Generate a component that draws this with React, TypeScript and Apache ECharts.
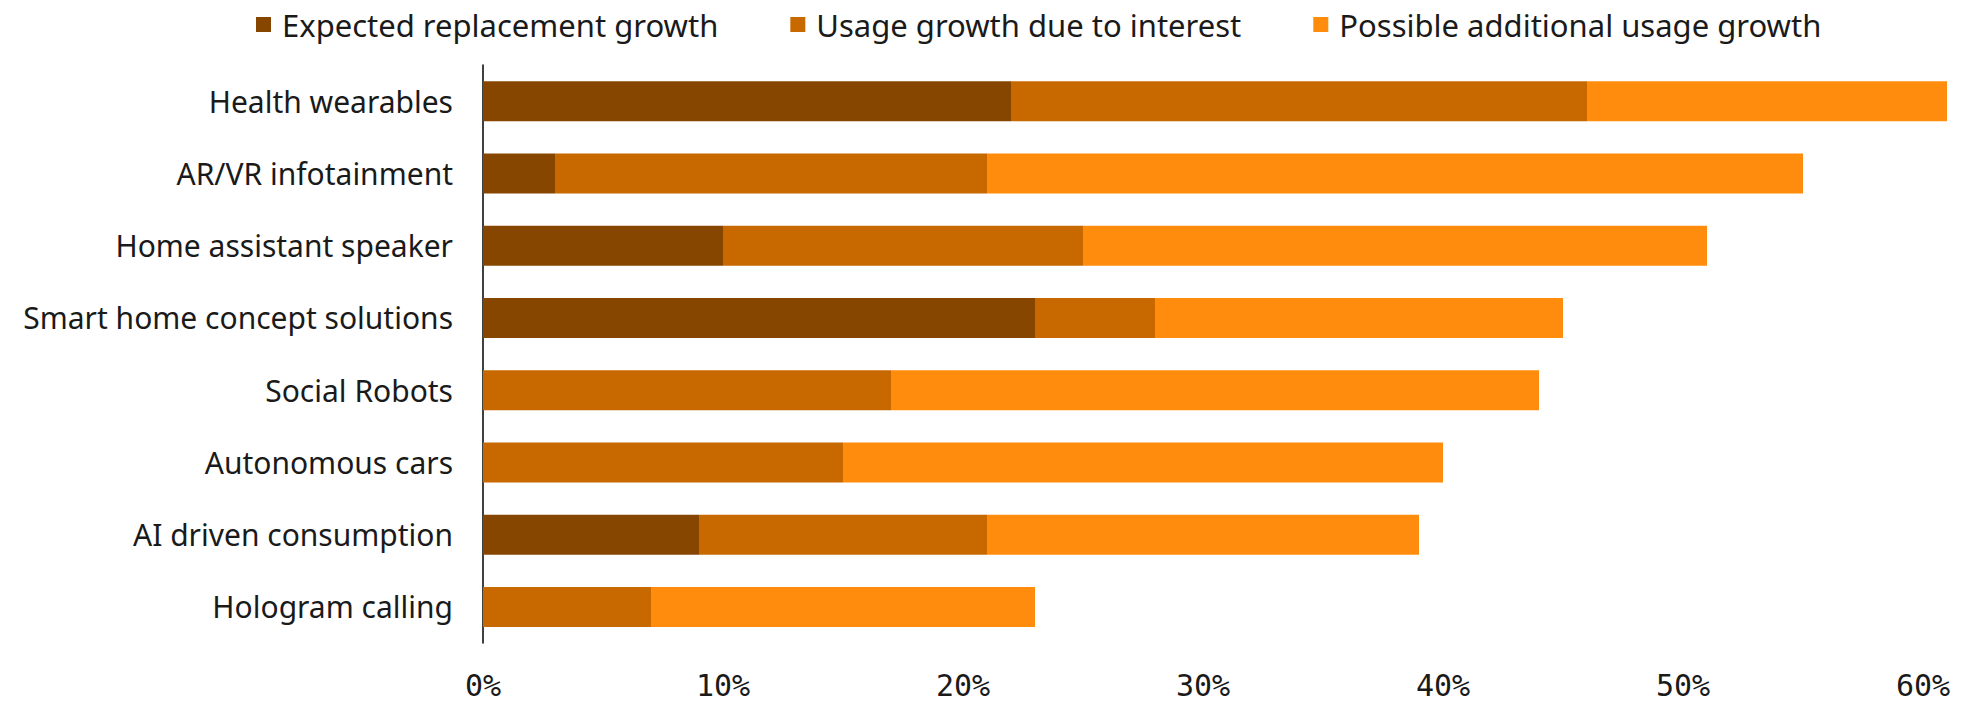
import React, { useEffect, useRef } from "react";
import * as echarts from "echarts";

const categories = [
  "Health wearables",
  "AR/VR infotainment",
  "Home assistant speaker",
  "Smart home concept solutions",
  "Social Robots",
  "Autonomous cars",
  "AI driven consumption",
  "Hologram calling",
];
const seriesNames = [
  "Expected replacement growth",
  "Usage growth due to interest",
  "Possible additional usage growth",
];
const replacement = [22, 3, 10, 23, 0, 0, 9, 0];
const interest = [24, 18, 15, 5, 17, 15, 12, 7];
const additional = [15, 34, 26, 17, 27, 25, 18, 16];
const colors = ["#874600", "#C86900", "#FF8C0C"];
const xTicks = [0, 10, 20, 30, 40, 50, 60];

export default function App() {
  const ref = useRef<HTMLDivElement>(null);
  useEffect(() => {
    if (!ref.current) return;
    const chart = echarts.init(ref.current, undefined, { renderer: "svg" });
    const values = [replacement, interest, additional];
    chart.setOption({
      animation: false,
      backgroundColor: "#ffffff",
      color: colors,
      legend: {
        top: 4,
        left: 251,
        icon: "rect",
        itemWidth: 15,
        itemHeight: 15,
        itemGap: 72,
        textStyle: {
          fontFamily: "Noto Sans",
          fontSize: 31,
          color: "#1a1a1a",
          padding: [0, 0, 0, 6],
        },
        data: seriesNames,
      },
      grid: { left: 483, right: 49, top: 65, bottom: 62, containLabel: false },
      xAxis: {
        type: "value",
        min: xTicks[0],
        max: xTicks[xTicks.length - 1],
        interval: 10,
        axisLine: { show: false },
        axisTick: { show: false },
        splitLine: { show: false },
        axisLabel: {
          formatter: "{value}%",
          fontFamily: "DejaVu Sans Mono",
          fontSize: 30,
          color: "#1a1a1a",
          margin: 27,
        },
      },
      yAxis: {
        type: "category",
        data: categories,
        inverse: true,
        axisLine: { show: true, lineStyle: { color: "#000000", width: 1.5 } },
        axisTick: { show: false },
        axisLabel: {
          fontFamily: "Noto Sans",
          fontSize: 30,
          color: "#1a1a1a",
          margin: 30,
        },
      },
      series: seriesNames.map((name, i) => ({
        name,
        type: "bar",
        stack: "total",
        barWidth: 40,
        clip: false,
        itemStyle: { color: colors[i] },
        data: values[i],
      })),
    });
    return () => chart.dispose();
  }, []);
  return (
    <div
      ref={ref}
      style={{ position: "fixed", left: 0, top: 0, width: 1972, height: 705 }}
    />
  );
}
